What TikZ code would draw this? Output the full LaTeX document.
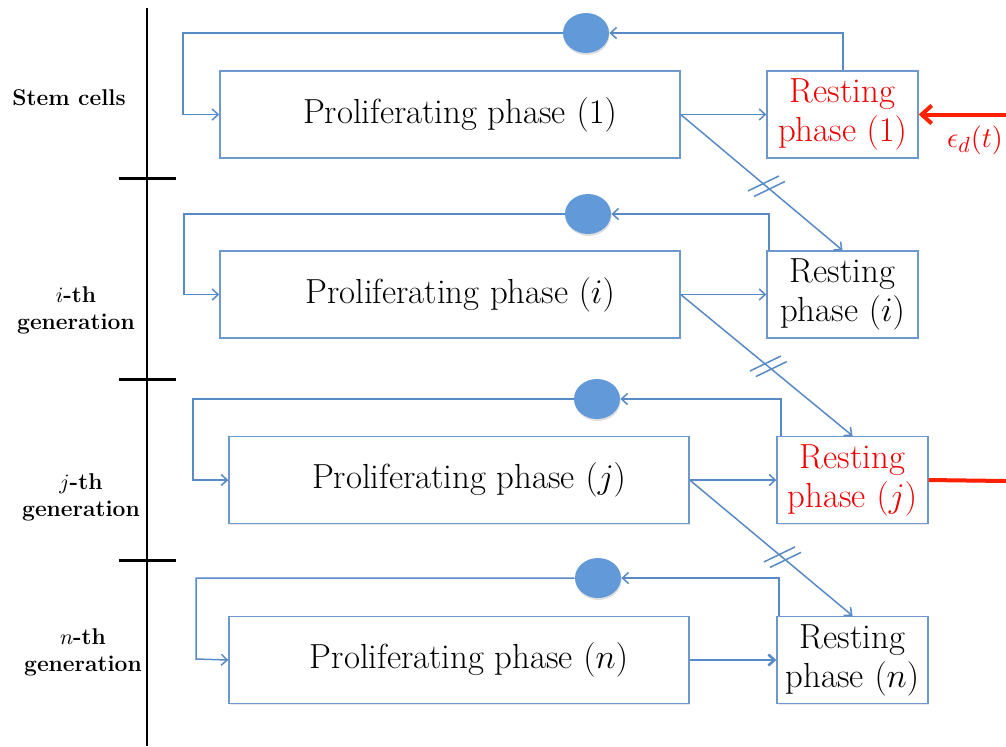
\documentclass[tikz,border=0pt]{standalone}
\usepackage{fontspec}
\usetikzlibrary{arrows.meta,calc,shapes.geometric,shadows}

\definecolor{linkblue}{RGB}{88,138,198}
\definecolor{boxblue}{RGB}{108,152,205}
\definecolor{hubfill}{RGB}{98,153,216}
\definecolor{alarm}{RGB}{255,32,0}
\definecolor{redtext}{RGB}{242,0,0}

% slash pair marking a delayed transfer on a diagonal
\newcommand{\delaymark}[1]{%
  \draw[link] ($(#1)+(-18.5,4.5)$) -- ++(31,-15);
  \draw[link] ($(#1)+(-12.5,10)$) -- ++(31,-15);
}

\begin{document}
\begin{tikzpicture}[x=0.5pt,y=-0.5pt,
  phasebox/.style={draw=boxblue, fill=white, line width=0.7pt, minimum height=43.5pt,
    inner sep=0pt, align=center, font=\fontsize{17.4}{19.5}\selectfont,
    drop shadow={opacity=0.18, shadow xshift=0.6pt, shadow yshift=-0.6pt}},
  prolif/.style={phasebox, minimum width=230pt, execute at begin node={\hspace*{10pt}}},
  resting/.style={phasebox, minimum width=75.5pt},
  hub/.style={ellipse, fill=hubfill, minimum width=23pt, minimum height=20pt, inner sep=0pt,
    drop shadow={opacity=0.25, shadow xshift=0.3pt, shadow yshift=-1pt}},
  link/.style={draw=linkblue, line width=0.75pt},
  tip/.style={-{Straight Barb[length=3pt,width=5.5pt]}},
  axis/.style={line width=1pt},
  tick/.style={line width=1.5pt},
  genlabel/.style={align=center, font=\fontsize{11.4}{13.5}\selectfont\bfseries},
  redarrow/.style={draw=alarm, line width=2pt, -{Straight Barb[length=5pt,width=9pt]}},
  redline/.style={draw=alarm, line width=2pt},
]
\useasboundingbox (0,0) rectangle (1006,746);

% generation axis
\coordinate (axtop) at (147,8);
\coordinate (axbot) at (147,746);
\draw[axis] (axtop) -- (axbot);
\foreach \y/\n in {178/t1,379/t2,560/t3}{
  \coordinate (\n a) at (119,\y);
  \coordinate (\n b) at (176,\y);
  \draw[tick] (\n a) -- (\n b);
}

% generation labels
\node[genlabel] (g1) at (69,98) {Stem cells};
\node[genlabel] (g2) at (76,310) {$i$-th\\generation};
\node[genlabel] (g3) at (81,497) {$j$-th\\generation};
\node[genlabel] (g4) at (83,652) {$n$-th\\generation};

% compartments
\node[prolif]  (p1) at (450,114.5) {Proliferating phase $(1)$};
\node[resting, text=redtext] (r1) at (842.5,114.5) {Resting\\phase $(1)$};
\node[prolif]  (p2) at (450,294.5) {Proliferating phase $(i)$};
\node[resting] (r2) at (842.5,294.5) {Resting\\phase $(i)$};
\node[prolif]  (p3) at (459,480) {Proliferating phase $(j)$};
\node[resting, text=redtext] (r3) at (852.5,480) {Resting\\phase $(j)$};
\node[prolif]  (p4) at (459,660) {Proliferating phase $(n)$};
\node[resting] (r4) at (852.5,660) {Resting\\phase $(n)$};

% return hubs
\node[hub] (h1) at (586,33) {};
\node[hub] (h2) at (588,214) {};
\node[hub] (h3) at (597,399) {};
\node[hub] (h4) at (598,578) {};

% return loops
\draw[link,tip] (r1.north -| 843,0) |- (h1.east);
\draw[link,tip] (h1.west) -| (183,114.5) -- (p1.west);
\draw[link,tip] (r2.north -| 769,0) |- (h2.east);
\draw[link,tip] (h2.west) -| (184,294.5) -- (p2.west);
\draw[link,tip] (r3.north -| 781,0) |- (h3.east);
\draw[link,tip] (h3.west) -| (193,480) -- (p3.west);
\draw[link,tip] (r4.north -| 779,0) |- (h4.east);
\draw[link,tip] (h4.west) -| (196,659) -- (p4.west);

% transitions to rest
\draw[link,tip] (p1.east) -- (r1.west);
\draw[link,tip] (p2.east) -- (r2.west);
\draw[link,tip] (p3.east) -- (r3.west);
\draw[link,tip,line width=1.3pt] (p4.east) -- (r4.west);

% transfers to the next generation
\draw[link,tip] (p1.east) -- (r2.north);
\draw[link,tip] (p2.east) -- (r3.north);
\draw[link,tip] (p3.east) -- (r4.north);
\coordinate (d1) at ($(p1.east)!0.53!(r2.north)$);
\coordinate (d2) at ($(p2.east)!0.51!(r3.north)$);
\coordinate (d3) at ($(p3.east)!0.57!(r4.north)$);
\delaymark{d1}
\delaymark{d2}
\delaymark{d3}

% external influx and outflux
\coordinate (ein) at (1006,114.5);
\coordinate (eout) at (1006,481);
\draw[redarrow] (ein) -- (r1.east);
\draw[redline] (r3.east) -- (eout);
\node[text=redtext, font=\fontsize{15}{18}\selectfont] (eps) at (975,140) {$\epsilon_d(t)$};
\end{tikzpicture}
\end{document}
